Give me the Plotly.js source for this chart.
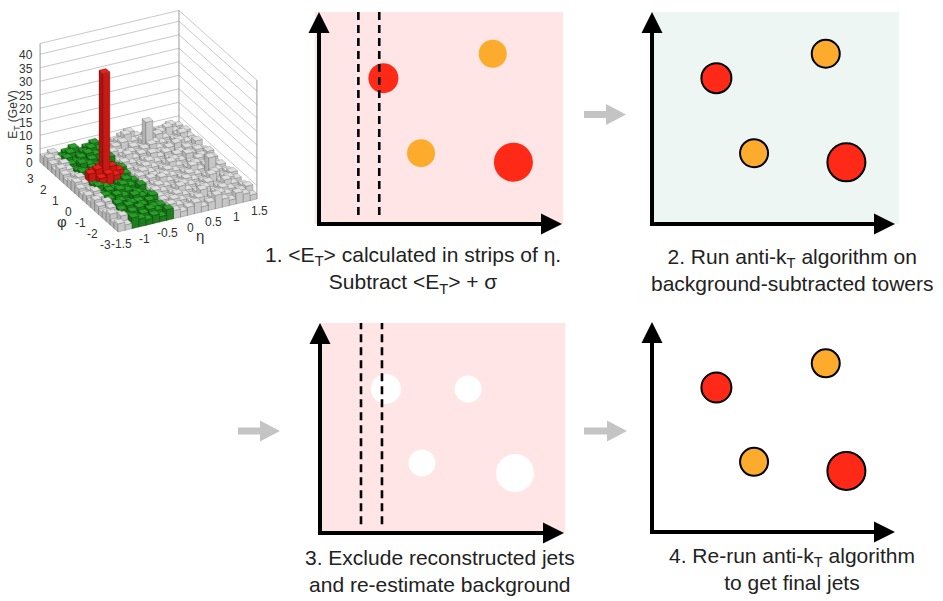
<!DOCTYPE html>
<html><head><meta charset="utf-8">
<script src="https://cdn.plot.ly/plotly-3.0.1.min.js"></script>
<style>html,body{margin:0;padding:0;background:#fff}#chart{width:943px;height:601px}</style>
</head><body><div id="chart"></div>
<script>
// ---------- jet diagram data (arbitrary eta-phi units, 0..10) ----------
const jetX = [2.65, 7.15, 4.2, 8.0];
const jetY = [6.88, 8.03, 3.34, 2.91];
const jetSize = [30, 28, 28, 38];
const jetKind = ['lead', 'sub', 'sub', 'lead'];
const exclX = [2.7, 6.07, 4.18, 7.99];
const exclY = [6.86, 6.86, 3.33, 2.86];
const exclSize = [30, 27, 27, 38];
const stripLines1 = [1.62, 2.48];
const stripLines3 = [1.68, 2.54];
const captionTexts = [
  '1. &lt;E<sub>T</sub>&gt; calculated in strips of η.<br>Subtract &lt;E<sub>T</sub>&gt; + σ',
  '2. Run anti-k<sub>T</sub> algorithm on<br>background-subtracted towers',
  '3. Exclude reconstructed jets<br>and re-estimate background',
  '4. Re-run anti-k<sub>T</sub> algorithm<br>to get final jets'
];

// ---------- lego plot data ----------
const etaEdges = [-1.5,-1.35,-1.2,-1.05,-0.9,-0.75,-0.6,-0.45,-0.3,-0.15,0,0.15,0.3,0.45,0.6,0.75,0.9,1.05,1.2,1.35,1.5];
const phiEdges = [-3.1416,-2.8274,-2.5133,-2.1991,-1.885,-1.5708,-1.2566,-0.9425,-0.6283,-0.3142,0,0.3142,0.6283,0.9425,1.2566,1.5708,1.885,2.1991,2.5133,2.8274,3.1416];
// tower E_T (GeV): rows = phi bins (phi = -pi first), columns = eta bins (eta = -1.5 first)
const towerET = [
  [3,2,4,3,2,3,2,4,3,2,3,4,2,3,5,3,2,4,3,2],
  [2,4,3,2,3,4,3,2,4,3,2,3,4,2,3,4,3,2,3,4],
  [4,3,2,3,4,2,3,3,2,4,3,2,3,5,2,3,4,3,2,3],
  [3,2,3,4,2,3,4,2,3,3,4,3,2,3,4,2,3,5,3,2],
  [2,3,4,2,3,3,2,4,3,2,3,5,3,2,3,4,2,3,4,3],
  [3,4,2,3,2,4,3,3,4,3,2,3,4,3,2,3,5,2,3,4],
  [4,2,3,4,3,2,3,2,3,4,3,2,3,4,3,2,3,4,2,3],
  [2,3,3,2,4,3,2,4,2,3,5,3,2,3,4,3,2,8,3,2],
  [3,4,2,3,3,4,3,2,3,4,2,4,3,2,3,5,3,4,2,3],
  [2,3,4,3,2,3,4,3,4,2,3,3,4,3,2,3,4,3,5,2],
  [3,2,3,5,6,5,3,2,3,4,3,2,3,5,3,2,3,4,3,3],
  [4,3,6,7,42,7,5,3,2,3,4,3,2,3,4,3,5,2,3,4],
  [3,4,3,5,6,5,2,4,3,2,3,4,3,2,3,4,2,3,4,3],
  [2,3,4,3,2,4,3,3,4,3,2,3,5,3,4,2,3,4,3,2],
  [3,2,3,2,3,3,4,2,3,5,3,4,2,3,3,4,5,3,2,4],
  [4,3,2,4,3,2,3,4,2,3,4,3,4,5,3,2,3,4,3,3],
  [2,4,3,3,2,3,2,3,4,3,2,4,3,12,4,3,2,3,5,3],
  [3,2,4,2,3,4,3,2,3,4,5,3,2,4,3,5,3,2,3,4],
  [4,3,3,4,2,3,4,3,2,3,4,6,3,3,4,3,4,5,3,2],
  [3,4,2,3,4,2,3,4,3,2,3,4,5,3,2,4,3,3,4,3]
];
const stripEta = [-1.2, -0.3];
const jetEta = -0.825, jetPhi = 0.471, jetR = 0.4;
const zTicks = [0,5,10,15,20,25,30,35,40];
const zMax = 44;
const etaTicks = [-1.5,-1,-0.5,0,0.5,1,1.5];
const etaTickText = ['-1.5','-1','-0.5','0','0.5','1','1.5'];
const phiTicks = [-3,-2,-1,0,1,2,3];

// ---------- oblique projection of the lego box into the inset's axes (pixels) ----------
const PROJ = {ox:118, oy:232, ex:[46.3,-11.0], ey:[-12.4,-11.1], ez:[0,-2.7]};
function P(eta,phi,z){
  const a=eta-etaEdges[0], b=phi-phiEdges[0];
  return [PROJ.ox+a*PROJ.ex[0]+b*PROJ.ey[0]+z*PROJ.ez[0], PROJ.oy+a*PROJ.ex[1]+b*PROJ.ey[1]+z*PROJ.ez[1]];
}
function pathOf(pts){ return 'M'+pts.map(p=>p[0].toFixed(2)+','+p[1].toFixed(2)).join('L')+'Z'; }
const faceCol = {
  grey:{top:'#dedede', front:'#c6c6c6', left:'#b2b2b2', line:'rgba(70,70,70,0.5)'},
  green:{top:'#2aa02a', front:'#1e7e1e', left:'#186a18', line:'rgba(0,40,0,0.6)'},
  red:{top:'#e8221c', front:'#c81a14', left:'#a81410', line:'rgba(90,0,0,0.6)'}
};
const legoShapes = [];
for(let r=towerET.length-1;r>=0;r--){
  for(let c=towerET[r].length-1;c>=0;c--){
    const x0=etaEdges[c], x1=etaEdges[c+1], y0=phiEdges[r], y1=phiEdges[r+1], h=towerET[r][c];
    const ce=(x0+x1)/2, cp=(y0+y1)/2;
    let g='grey';
    if(ce>stripEta[0] && ce<stripEta[1]) g = Math.hypot(ce-jetEta,cp-jetPhi)<jetR ? 'red' : 'green';
    const fc=faceCol[g];
    const faces=[
      [[P(x0,y0,0),P(x0,y1,0),P(x0,y1,h),P(x0,y0,h)], fc.left],
      [[P(x0,y0,0),P(x1,y0,0),P(x1,y0,h),P(x0,y0,h)], fc.front],
      [[P(x0,y0,h),P(x1,y0,h),P(x1,y1,h),P(x0,y1,h)], fc.top]
    ];
    faces.forEach(f=>legoShapes.push({type:'path', xref:'x5', yref:'y5', path:pathOf(f[0]),
      fillcolor:f[1], line:{color:fc.line, width:0.5}, layer:'above'}));
  }
}
// back walls: grid lines and frame
const eL=etaEdges[0], eR=etaEdges[etaEdges.length-1], pB=phiEdges[0], pT=phiEdges[phiEdges.length-1];
const grid={x:[],y:[]};
zTicks.concat([zMax]).forEach(z=>{
  [P(eL,pT,z),P(eR,pT,z),P(eR,pB,z)].forEach(p=>{grid.x.push(p[0]);grid.y.push(p[1]);});
  grid.x.push(null); grid.y.push(null);
});
const frame={x:[],y:[]};
[[eL,pT],[eR,pT],[eR,pB]].forEach(e=>{
  const a=P(e[0],e[1],0), b=P(e[0],e[1],zMax);
  frame.x.push(a[0],b[0],null); frame.y.push(a[1],b[1],null);
});

const data = [];
data.push({type:'scatter', mode:'lines', xaxis:'x5', yaxis:'y5', x:grid.x, y:grid.y,
  line:{color:'#c9c9c9', width:1}, hoverinfo:'skip', connectgaps:false});
data.push({type:'scatter', mode:'lines', xaxis:'x5', yaxis:'y5', x:frame.x, y:frame.y,
  line:{color:'#9a9a9a', width:1}, hoverinfo:'skip', connectgaps:false});

// ---------- jet panels ----------
const RED='#fe2a17', ORANGE='#fdab2c';
const jetColors = jetKind.map(k=>k==='lead'?RED:ORANGE);
data.push({type:'scatter', mode:'markers', xaxis:'x', yaxis:'y', x:jetX, y:jetY,
  marker:{size:jetSize.map((s,i)=>i===3?s+1:s), color:jetColors, opacity:1, line:{width:0}}, hoverinfo:'skip'});
data.push({type:'scatter', mode:'markers', xaxis:'x2', yaxis:'y2', x:jetX, y:jetY,
  marker:{size:jetSize, color:jetColors, opacity:1, line:{width:2, color:'#000'}}, hoverinfo:'skip'});
data.push({type:'scatter', mode:'markers', xaxis:'x3', yaxis:'y3', x:exclX, y:exclY,
  marker:{size:exclSize, color:'#ffffff', opacity:1, line:{width:0}}, hoverinfo:'skip'});
data.push({type:'scatter', mode:'markers', xaxis:'x4', yaxis:'y4', x:jetX, y:jetY,
  marker:{size:jetSize, color:jetColors, opacity:1, line:{width:2, color:'#000'}}, hoverinfo:'skip'});

const W=943, H=601, M=11;
// pixel boxes of the four panels: [left, right, top, bottom] = axis origin .. arrow tips
const panels = [
  {box:[319,562,12,224], bg:'#ffe5e5', bgx:[-0.17,10.04]},
  {box:[652,895,12,224], bg:'#eef6f3', bgx:[0,10.17]},
  {box:[320,564,323,533], bg:'#ffe5e5', bgx:[0,10.05]},
  {box:[652,895,322,532], bg:null}
];
const FONT='Liberation Sans, Arial, sans-serif';
const layout = {
  width:W, height:H, margin:{l:0,r:0,t:0,b:0}, paper_bgcolor:'#fff', plot_bgcolor:'rgba(0,0,0,0)',
  showlegend:false, shapes:[], annotations:[],
  font:{family:FONT, color:'#222'},
  xaxis5:{domain:[0,290/W], range:[0,290], visible:false, fixedrange:true, anchor:'y5'},
  yaxis5:{domain:[1-262/H,1], range:[262,0], visible:false, fixedrange:true, anchor:'x5'}
};
panels.forEach((p,idx)=>{
  const n = idx===0?'':String(idx+1);
  const [a,b,t,bt]=p.box, sx=(b-a)/10, sy=(bt-t)/10;
  layout['xaxis'+n] = {domain:[(a-M)/W,(b+M)/W], range:[-M/sx,10+M/sx], visible:false, fixedrange:true, anchor:'y'+n};
  layout['yaxis'+n] = {domain:[1-(bt+M)/H,1-(t-M)/H], range:[-M/sy,10+M/sy], visible:false, fixedrange:true, anchor:'x'+n};
  const xr='x'+n, yr='y'+n;
  if(p.bg) layout.shapes.push({type:'rect', xref:xr, yref:yr, x0:p.bgx[0], x1:p.bgx[1], y0:0, y1:10,
    fillcolor:p.bg, line:{width:0}, layer:'below'});
  const lines = idx===0?stripLines1:(idx===2?stripLines3:[]);
  lines.forEach(v=>layout.shapes.push({type:'line', xref:xr, yref:yr, x0:v, x1:v, y0:0.42, y1:10,
    line:{color:'#000', width:2.6, dash:'8px,5px'}}));
  // axis lines
  layout.shapes.push({type:'line', xref:xr, yref:yr, x0:-2/sx, x1:9.6, y0:0, y1:0, line:{color:'#000', width:4}});
  layout.shapes.push({type:'line', xref:xr, yref:yr, x0:0, x1:0, y0:-2/sy, y1:9.5, line:{color:'#000', width:4}});
  // arrowheads (pixel-sized triangles)
  layout.shapes.push({type:'path', xref:xr, yref:yr, xsizemode:'pixel', ysizemode:'pixel', xanchor:10, yanchor:0,
    path:'M-21,-10.5L-21,10.5L0,0Z', fillcolor:'#000', line:{width:0}});
  layout.shapes.push({type:'path', xref:xr, yref:yr, xsizemode:'pixel', ysizemode:'pixel', xanchor:0, yanchor:10,
    path:'M-10.5,-21L10.5,-21L0,0Z', fillcolor:'#000', line:{width:0}});
});
// grey flow arrows (tail x, y, length in pixels)
[[584,114.5,42],[238,431,42],[584,431,43]].forEach(a=>{
  const L=a[2], s=L-20;
  layout.shapes.push({type:'path', xref:'paper', yref:'paper', xsizemode:'pixel', ysizemode:'pixel',
    xanchor:a[0]/W, yanchor:1-a[1]/H,
    path:`M0,-3.5L${s},-3.5L${s},-10.5L${L},0L${s},10.5L${s},3.5L0,3.5Z`, fillcolor:'#c4c4c4', line:{width:0}});
});
// lego towers
legoShapes.forEach(s=>layout.shapes.push(s));
// lego axis labels
const tickFont={size:12, color:'#333', family:FONT};
zTicks.forEach(z=>{ const p=P(eL,pT,z);
  layout.annotations.push({xref:'x5', yref:'y5', x:p[0]-5, y:p[1]+1, text:String(z), showarrow:false,
    xanchor:'right', yanchor:'middle', font:tickFont}); });
phiTicks.forEach(v=>{ const p=P(eL,v,0);
  layout.annotations.push({xref:'x5', yref:'y5', x:p[0]-11, y:p[1]+15, text:String(v), showarrow:false,
    xanchor:'center', yanchor:'middle', font:tickFont}); });
etaTicks.forEach((v,i)=>{ const p=P(v,pB,0);
  layout.annotations.push({xref:'x5', yref:'y5', x:p[0]+3, y:p[1]+12, text:etaTickText[i], showarrow:false,
    xanchor:'center', yanchor:'middle', font:tickFont}); });
{ const p=P(0.25,pB,0);
  layout.annotations.push({xref:'x5', yref:'y5', x:p[0]+1, y:p[1]+23, text:'η', showarrow:false,
    xanchor:'center', yanchor:'middle', font:{size:15,color:'#333',family:FONT}}); }
{ const p=P(eL,-0.5,0);
  layout.annotations.push({xref:'x5', yref:'y5', x:p[0]-23, y:p[1]+19, text:'φ', showarrow:false,
    xanchor:'center', yanchor:'middle', font:{size:15,color:'#333',family:FONT}}); }
{ const p=P(eL,pT,18);
  layout.annotations.push({xref:'x5', yref:'y5', x:14, y:p[1]+1, text:'E<sub>T</sub> (GeV)', showarrow:false,
    textangle:-90, xanchor:'center', yanchor:'middle', font:{size:12,color:'#333',family:FONT}}); }
// captions
[[413,270],[792,270],[440,571],[792,569]].forEach((c,i)=>{
  layout.annotations.push({xref:'paper', yref:'paper', x:c[0]/W, y:1-c[1]/H, xanchor:'center', yanchor:'middle',
    text:captionTexts[i], showarrow:false, align:'center', font:{size:21, color:'#222', family:FONT}});
});
Plotly.newPlot('chart', data, layout, {displayModeBar:false, staticPlot:true});
</script></body></html>
